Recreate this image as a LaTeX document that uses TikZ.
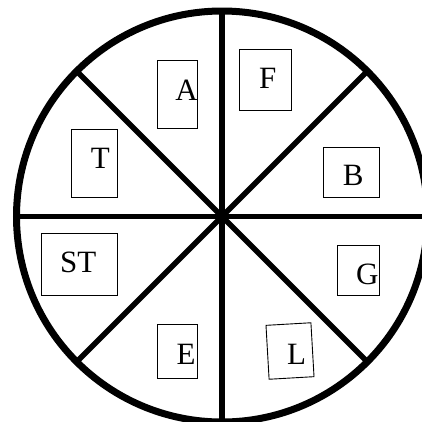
\documentclass[tikz,border=0pt]{standalone}
\usepackage{fontspec}
\setmainfont{Liberation Serif}
\usetikzlibrary{calc}

\begin{document}
\begin{tikzpicture}[x=1pt, y=-1pt,
  wheel/.style={line width=7pt},
  spoke/.style={line width=5.5pt},
  tagbox/.style={draw, line width=0.9pt, inner sep=0pt},
  letter/.style={font=\fontsize{31}{36}\selectfont, inner sep=0pt}]

% ============================================================
% Frame (picture is cut at the right and bottom edge)
% ============================================================
\useasboundingbox (0,0) rectangle (422,421);
\clip (0,0) rectangle (422,421);

\coordinate (O) at (222,216.5);

% Spokes: eight sectors
\foreach \a in {0,45,...,315} {
  \draw[spoke] (O) -- ++(\a:205.5);
}

% Rim
\draw[wheel] (O) circle (205.5);

% ============================================================
% Boxes, one per sector (corner at north west)
% ============================================================
\node[tagbox, anchor=north west, minimum width=40pt, minimum height=68pt] (boxA) at (157,60) {};
\node[tagbox, anchor=north west, minimum width=52pt, minimum height=61pt] (boxF) at (239,49) {};
\node[tagbox, anchor=north west, minimum width=46pt, minimum height=68pt] (boxT) at (71,129) {};
\node[tagbox, anchor=north west, minimum width=56pt, minimum height=50pt] (boxB) at (323,147) {};
\node[tagbox, anchor=north west, minimum width=76pt, minimum height=62pt] (boxST) at (41,233) {};
\node[tagbox, anchor=north west, minimum width=42pt, minimum height=50pt] (boxG) at (337,245) {};
\node[tagbox, anchor=north west, minimum width=40pt, minimum height=54pt] (boxE) at (157,324) {};
% L box is slightly tilted
\node[tagbox, rotate=3.3, minimum width=45pt, minimum height=54pt] (boxL) at (290,351) {};

% Letters
\node[letter] (A) at (186.5,90.5) {A};
\node[letter] (F) at (267.8,78.3) {F};
\node[letter] (T) at (100.3,158.2) {T};
\node[letter] (B) at (353.3,175.8) {B};
\node[letter] (ST) at (78.3,262) {ST};
\node[letter] (G) at (367.2,274.2) {G};
\node[letter] (E) at (186.2,354.5) {E};
\node[letter] (L) at (296.5,354.2) {L};

\end{tikzpicture}
\end{document}
